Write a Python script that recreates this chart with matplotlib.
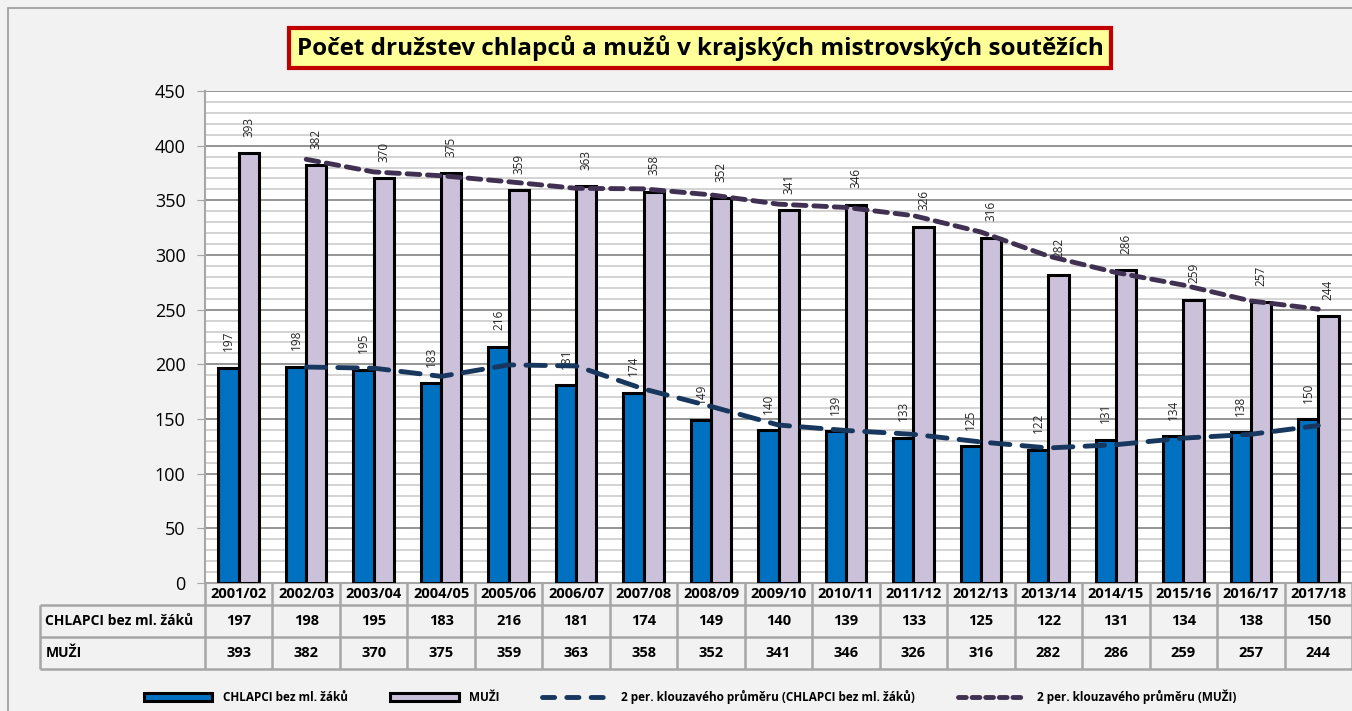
import numpy as np
import pandas as pd
import matplotlib
matplotlib.use("Agg")
import matplotlib.pyplot as plt
from matplotlib.patches import Rectangle, Patch
from matplotlib.lines import Line2D
from matplotlib.transforms import blended_transform_factory
from matplotlib.ticker import MultipleLocator

plt.rcParams['font.family'] = ['Open Sans', 'DejaVu Sans']

# data
seasons = ['2001/02', '2002/03', '2003/04', '2004/05', '2005/06', '2006/07', '2007/08',
           '2008/09', '2009/10', '2010/11', '2011/12', '2012/13', '2013/14', '2014/15',
           '2015/16', '2016/17', '2017/18']
chlapci = [197, 198, 195, 183, 216, 181, 174, 149, 140, 139, 133, 125, 122, 131, 134, 138, 150]
muzi = [393, 382, 370, 375, 359, 363, 358, 352, 341, 346, 326, 316, 282, 286, 259, 257, 244]
name_ch = 'CHLAPCI bez ml. žáků'
name_m = 'MUŽI'
title = 'Počet družstev chlapců a mužů v krajských mistrovských soutěžích'

# 2 per. klouzavý průměr (jako v Excelu)
ma_ch = pd.Series(chlapci).rolling(2).mean()
ma_m = pd.Series(muzi).rolling(2).mean()

c_blue = '#0070C0'
c_lilac = '#CCC1DA'
c_ma_ch = '#17375E'
c_ma_m = '#403152'
c_grid = '#a6a6a6'

fig = plt.figure(figsize=(13.52, 7.11), dpi=100)
fig.patch.set_facecolor('#f2f2f2')
fig.patches.append(Rectangle((8 / 1352, -0.1), 2, 1.1 - 8 / 711, transform=fig.transFigure,
                             fill=False, edgecolor='#9a9a9a', lw=1.2))

ax = fig.add_axes([205 / 1352, 1 - 583 / 711, 1 - 205 / 1352, (583 - 91) / 711])
ax.set_facecolor('white')

x = np.arange(len(seasons))
w = 0.3
ax.bar(x - 0.15, chlapci, w, color=c_blue, edgecolor='black', lw=2.2, zorder=3)
ax.bar(x + 0.15, muzi, w, color=c_lilac, edgecolor='black', lw=2.2, zorder=3)

ax.plot(x, ma_ch, color=c_ma_ch, lw=3.5, dashes=(4, 2.5), dash_capstyle='round', zorder=4)
ax.plot(x, ma_m, color=c_ma_m, lw=3.5, dashes=(2.6, 1.6), dash_capstyle='round', zorder=4)

for i in range(len(seasons)):
    ax.text(x[i] - 0.15, chlapci[i] + 15, str(chlapci[i]), rotation=90, ha='center',
            va='bottom', fontsize=8.5, color='#262626', zorder=2)
    ax.text(x[i] + 0.15, muzi[i] + 15, str(muzi[i]), rotation=90, ha='center',
            va='bottom', fontsize=8.5, color='#262626', zorder=2)

ax.set_xlim(-0.5, len(seasons) - 0.5)
ax.set_ylim(0, 450)
ax.yaxis.set_major_locator(MultipleLocator(50))
ax.yaxis.set_minor_locator(MultipleLocator(10))
ax.grid(which='major', axis='y', color='#8c8c8c', lw=1.3, zorder=0)
ax.grid(which='minor', axis='y', color='#c8c8c8', lw=1.1, zorder=0)
ax.tick_params(axis='y', which='major', labelsize=13, length=6, color=c_grid, pad=8)
ax.tick_params(axis='y', which='minor', length=0)
ax.set_xticks([])
for s in ['top', 'right']:
    ax.spines[s].set_visible(False)
ax.spines['left'].set_color(c_grid)
ax.spines['bottom'].set_color(c_grid)
ax.spines['left'].set_linewidth(1.5)
ax.spines['bottom'].set_linewidth(1.5)

# tabulka pod grafem
tr = blended_transform_factory(ax.transData, ax.transAxes)
px = 492.0
y_hdr = -22 / px
y_r1 = -54 / px
y_r2 = -86 / px
x_left = -0.5 - 165 / 67.47
x_right = len(seasons) - 0.5
lkw = dict(color=c_grid, lw=1.8, transform=tr, clip_on=False, solid_capstyle='butt')
for yy in [y_hdr, y_r1, y_r2]:
    ax.plot([x_left, x_right], [yy, yy], **lkw)
ax.plot([x_left, x_left], [y_hdr, y_r2], **lkw)
for k in range(len(seasons) + 1):
    ax.plot([k - 0.5, k - 0.5], [0, y_r2], **lkw)
for i in range(len(seasons)):
    ax.text(x[i], y_hdr / 2, seasons[i], ha='center', va='center', fontsize=10.5,
            fontweight='bold', transform=tr)
    ax.text(x[i], (y_hdr + y_r1) / 2, str(chlapci[i]), ha='center', va='center',
            fontsize=10.5, fontweight='bold', transform=tr)
    ax.text(x[i], (y_r1 + y_r2) / 2, str(muzi[i]), ha='center', va='center',
            fontsize=10.5, fontweight='bold', transform=tr)
ax.text(x_left + 0.08, (y_hdr + y_r1) / 2, name_ch, ha='left', va='center',
        fontsize=10, fontweight='bold', transform=tr)
ax.text(x_left + 0.08, (y_r1 + y_r2) / 2, name_m, ha='left', va='center',
        fontsize=10, fontweight='bold', transform=tr)

# nadpis
fig.text(700 / 1352, 1 - 48 / 711, title, ha='center', va='center', fontsize=17.5,
         fontweight='bold',
         bbox=dict(boxstyle='square,pad=0.3', facecolor='#ffff99', edgecolor='#c00000', lw=3))

# legenda
handles = [
    Patch(facecolor=c_blue, edgecolor='black', lw=2.2),
    Patch(facecolor=c_lilac, edgecolor='black', lw=2.2),
    Line2D([], [], color=c_ma_ch, lw=3.5, dashes=(2.5, 2.5), dash_capstyle='round'),
    Line2D([], [], color=c_ma_m, lw=3.5, dashes=(1.6, 1.2), dash_capstyle='round'),
]
labels = [name_ch, name_m, '2 per. klouzavého průměru (' + name_ch + ')',
          '2 per. klouzavého průměru (' + name_m + ')']
fig.legend(handles, labels, loc='center', bbox_to_anchor=(690 / 1352, 1 - 697 / 711),
           ncol=4, frameon=False, prop={'size': 8.5, 'weight': 'bold'},
           handlelength=5.8, handleheight=0.6, columnspacing=3.6, handletextpad=0.9)

fig.savefig('out.png', dpi=100, facecolor=fig.get_facecolor())
